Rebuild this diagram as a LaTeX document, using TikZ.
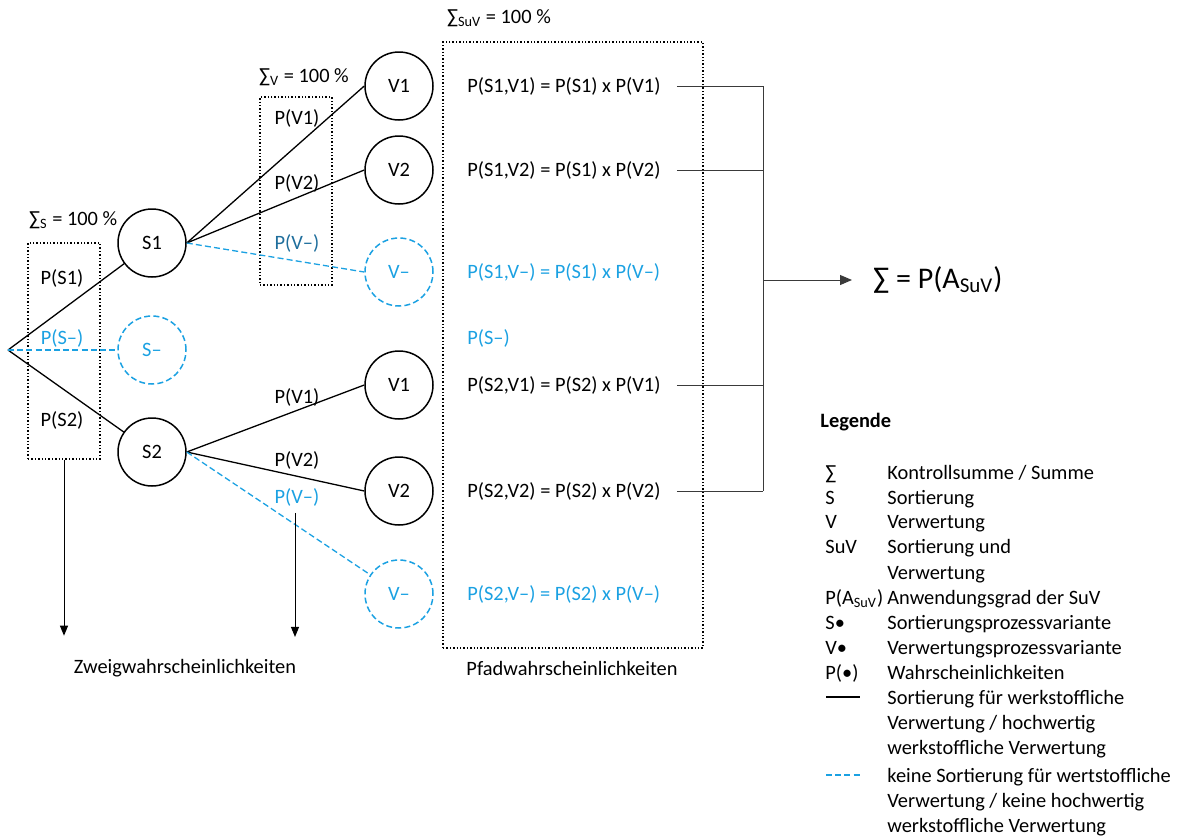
\documentclass[tikz,border=0pt]{standalone}
\usepackage{fontspec}
\setmainfont{Carlito}
\usetikzlibrary{
  arrows.meta,
  positioning
}
\definecolor{ink}{HTML}{000000}
\definecolor{sky}{HTML}{1BA1E2}
\definecolor{skydark}{HTML}{1F6E9C}
\definecolor{wire}{HTML}{3A3A3A}
\tikzset{
  variant/.style={
    circle,
    draw=ink,
    line width=0.75pt,
    minimum size=34pt,
    inner sep=0pt
  },
  novariant/.style={
    variant,
    draw=sky,
    text=sky,
    dash pattern=on 3pt off 1.6pt
  },
  branch/.style={
    draw=ink,
    line width=0.65pt
  },
  nobranch/.style={
    draw=sky,
    line width=0.65pt,
    dash pattern=on 3pt off 1.6pt
  },
  group/.style={
    draw=ink,
    densely dotted,
    line width=0.7pt,
    inner sep=0pt
  },
  path/.style={
    anchor=west,
    inner sep=0pt
  },
  collect/.style={
    draw=wire,
    line width=0.5pt
  },
  down/.style={
    -{Triangle[length=5pt,width=4pt]},
    draw=ink,
    line width=0.5pt
  },
  lgd/.style={
    anchor=base west,
    inner sep=0pt
  }
}

\begin{document}
\begin{tikzpicture}[x=0.5pt, y=-0.5pt,
  font=\fontsize{10.2}{12.5}\selectfont]
  \useasboundingbox (0,0) rectangle (1184,836);

  % Sortierung.
  \coordinate (root) at (8,350);
  \node[variant] (S1) at (152,243) {S1};
  \node[novariant] (Sm) at (152,350) {S–};
  \node[variant] (S2) at (152,452) {S2};
  \node[group, minimum width=36pt, minimum height=108pt] (boxS) at (64,351) {};
  \node[anchor=west] (sumS) at (22,220) {∑\textsubscript{S} = 100 \%};
  \node (pS1) at (62,278) {P(S1)};
  \node[text=sky] (pSm) at (62,338) {P(S–)};
  \node (pS2) at (62,420) {P(S2)};
  \draw[branch] (root) -- (S1);
  \draw[branch] (root) -- (S2);
  \draw[nobranch] (root) -- (Sm.west);

  % Verwertung nach S1.
  \node[variant] (V11) at (399,86) {V1};
  \node[variant] (V12) at (399,170) {V2};
  \node[novariant] (V1m) at (399,272) {V–};
  \node[group, minimum width=36pt, minimum height=94pt] (boxV) at (296,191) {};
  \node[anchor=west] (sumV) at (252,77) {∑\textsubscript{V} = 100 \%};
  \node (pV11) at (297,118) {P(V1)};
  \node (pV12) at (297,183) {P(V2)};
  \node[text=skydark] (pV1m) at (297,243) {P(V–)};
  \draw[branch] (S1.east) -- (V11.west);
  \draw[branch] (S1.east) -- (V12.west);
  \draw[nobranch] (S1.east) -- (V1m.west);

  % Verwertung nach S2.
  \node[variant] (V21) at (399,385) {V1};
  \node[variant] (V22) at (399,491) {V2};
  \node[novariant] (V2m) at (399,594) {V–};
  \node (pV21) at (297,397) {P(V1)};
  \node (pV22) at (297,460) {P(V2)};
  \node[text=sky] (pV2m) at (297,497) {P(V–)};
  \draw[branch] (S2.east) -- (V21.west);
  \draw[branch] (S2.east) -- (V22.west);
  \draw[nobranch] (S2.east) -- (V2m);

  % Pfade.
  \node[group, minimum width=130pt, minimum height=303pt] (boxP) at (573,345) {};
  \node[anchor=west] (sumP) at (440,18) {∑\textsubscript{SuV} = 100 \%};
  \node[path] (p11) at (467,86) {P(S1,V1) = P(S1) x P(V1)};
  \node[path] (p12) at (467,170) {P(S1,V2) = P(S1) x P(V2)};
  \node[path, text=sky] (p1m) at (467,272) {P(S1,V–) = P(S1) x P(V–)};
  \node[path, text=sky] (pSmP) at (467,338) {P(S–)};
  \node[path] (p21) at (467,385) {P(S2,V1) = P(S2) x P(V1)};
  \node[path] (p22) at (467,491) {P(S2,V2) = P(S2) x P(V2)};
  \node[path, text=sky] (p2m) at (467,594) {P(S2,V–) = P(S2) x P(V–)};

  % Summe.
  \coordinate (join) at (763,280);
  \node[anchor=west, font=\fontsize{15}{18}\selectfont] (result) at (866,280)
    {∑ = P(A\textsubscript{SuV})};
  \foreach \p in {p11, p12, p21, p22}
    \draw[collect, shorten <=8pt] (\p.east) -- (\p.east -| join);
  \draw[collect] (p11.east -| join) -- (p22.east -| join);
  \draw[collect, -{Triangle[length=6pt,width=5pt]}, shorten >=7pt]
    (join) -- (result.west);

  % Zweig- und Pfadwahrscheinlichkeiten.
  \draw[down] (boxS.south) -- ++(0,176);
  \draw[down] (pV2m.south -| 295,0) -- ++(0,124);
  \node (zweig) at (185,668) {Zweigwahrscheinlichkeiten};
  \node (pfad) at (572,668) {Pfadwahrscheinlichkeiten};

  % Legende.
  \node[lgd, font=\fontsize{10.2}{12.5}\selectfont\bfseries] (legende)
    at (820,427) {Legende};
  \foreach \yy/\sym in {472/∑, 497/S, 521/V, 546/SuV,
      597/{P(A\textsubscript{SuV})}, 622/{S•}, 647/{V•}, 672/{P(•)}}
    \node[lgd] (sym-\yy) at (825,\yy+7) {\sym};
  \foreach \yy/\txt in {472/{Kontrollsumme / Summe}, 497/Sortierung,
      521/Verwertung, 546/{Sortierung und}, 572/Verwertung,
      597/{Anwendungsgrad der SuV}, 622/Sortierungsprozessvariante,
      647/Verwertungsprozessvariante, 672/Wahrscheinlichkeiten,
      697/{Sortierung für werkstoffliche}, 722/{Verwertung / hochwertig},
      747/{werkstoffliche Verwertung},
      775/{keine Sortierung für wertstoffliche},
      800/{Verwertung / keine hochwertig}, 825/{werkstoffliche Verwertung}}
    \node[lgd] (txt-\yy) at (887,\yy+7) {\txt};
  \draw[branch] (826,697) -- (860,697);
  \draw[nobranch] (826,775) -- (862,775);
\end{tikzpicture}
\end{document}
